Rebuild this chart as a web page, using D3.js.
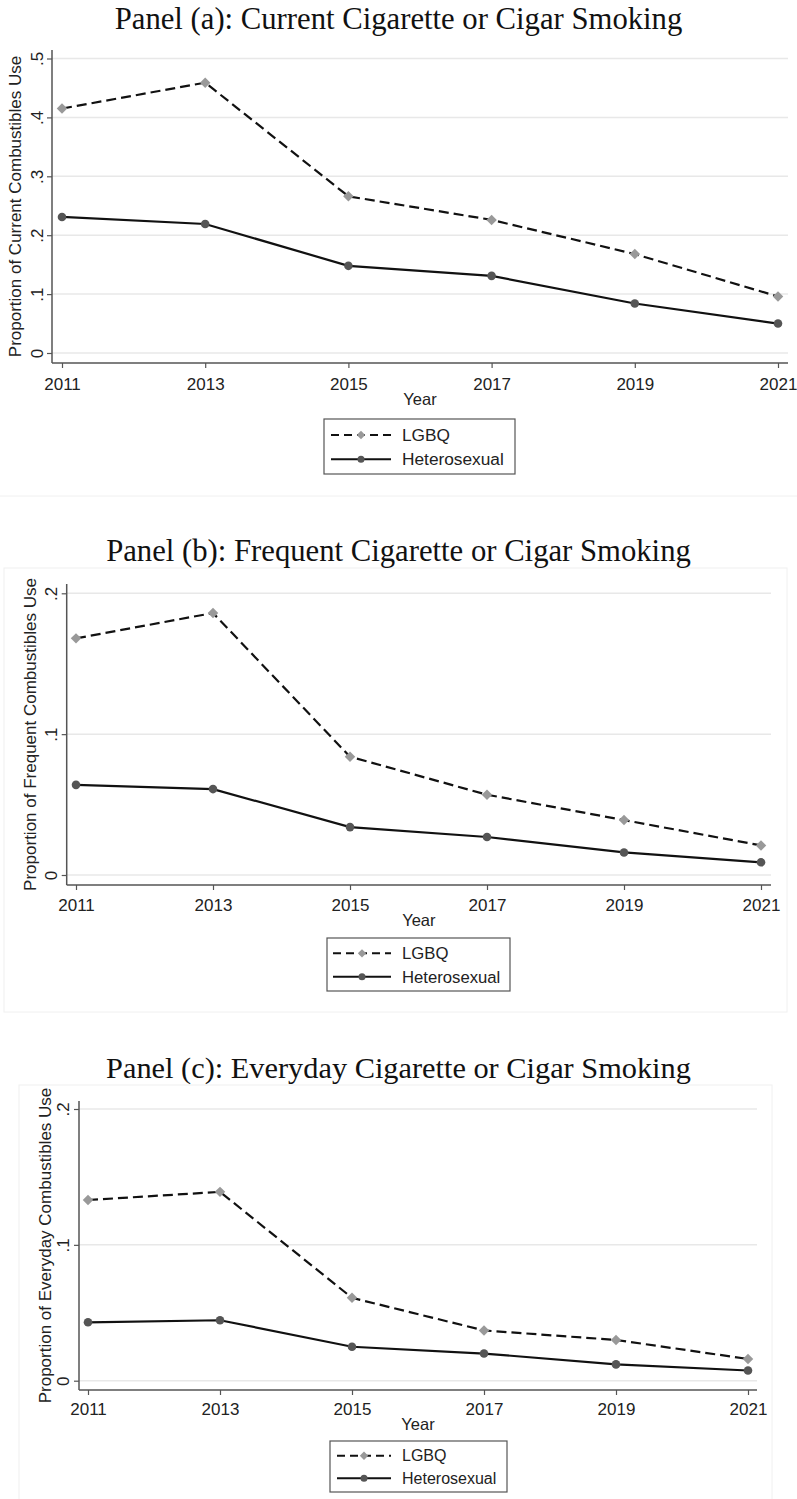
<!DOCTYPE html>
<html>
<head>
<meta charset="utf-8">
<script src="https://cdn.jsdelivr.net/npm/d3@7/dist/d3.min.js"></script>
<style>
  html, body { margin: 0; padding: 0; background: #fff; }
  svg { display: block; }
</style>
</head>
<body>
<svg id="chart" width="797" height="1499"></svg>
<script>
// Survey years on the x axis
const years = [2011, 2013, 2015, 2017, 2019, 2021];
const seriesNames = ["LGBQ", "Heterosexual"];

// Panel (a): current cigarette or cigar smoking
const currentLGBQ   = [0.415, 0.459, 0.266, 0.226, 0.168, 0.096];
const currentHetero = [0.231, 0.219, 0.148, 0.131, 0.084, 0.050];
const currentTicks  = [0, 0.1, 0.2, 0.3, 0.4, 0.5];

// Panel (b): frequent cigarette or cigar smoking
const frequentLGBQ   = [0.168, 0.186, 0.084, 0.057, 0.039, 0.021];
const frequentHetero = [0.064, 0.061, 0.034, 0.027, 0.016, 0.009];
const frequentTicks  = [0, 0.1, 0.2];

// Panel (c): everyday cigarette or cigar smoking
const everydayLGBQ   = [0.133, 0.139, 0.061, 0.037, 0.030, 0.016];
const everydayHetero = [0.043, 0.0445, 0.025, 0.020, 0.012, 0.0075];
const everydayTicks  = [0, 0.1, 0.2];

const titles = [
  "Panel (a): Current Cigarette or Cigar Smoking",
  "Panel (b): Frequent Cigarette or Cigar Smoking",
  "Panel (c): Everyday Cigarette or Cigar Smoking"
];
const yTitles = [
  "Proportion of Current Combustibles Use",
  "Proportion of Frequent Combustibles Use",
  "Proportion of Everyday Combustibles Use"
];

const svg = d3.select("#chart");
const SANS = "'Liberation Sans', Arial, sans-serif";
const SERIF = "'Liberation Serif', 'Times New Roman', serif";
const tickFmt = v => v === 0 ? "0" : d3.format(".1f")(v).replace(/^0/, "");

// Layout of each panel
const panels = [
  { title: titles[0], titleY: 29, titleW: 568, yTitle: yTitles[0],
    lgbq: currentLGBQ, hetero: currentHetero, ticks: currentTicks, yMax: 0.5,
    axisX: 52, plotRight: 788, x0: 62, x1: 778,
    yBottom: 353, yTop: 58.5, axisTop: 50, xAxisY: 363,
    yTitleX: 15, tickLabelX: 37, xLabelY: 384, yearY: 405,
    legend: { x: 324, y: 419, w: 191, h: 55, l0: 7, l1: 67, tx: 78, fs: 17.3 },
    frame: null, sepLine: 496 },
  { title: titles[1], titleY: 561, titleW: 585, yTitle: yTitles[1],
    lgbq: frequentLGBQ, hetero: frequentHetero, ticks: frequentTicks, yMax: 0.2,
    axisX: 66.7, plotRight: 771, x0: 76, x1: 761,
    yBottom: 875, yTop: 593.3, axisTop: 584, xAxisY: 885,
    yTitleX: 30, tickLabelX: 51, xLabelY: 905, yearY: 926,
    legend: { x: 327, y: 938, w: 183, h: 53, l0: 6, l1: 64, tx: 75, fs: 16.7 },
    frame: { x: 4, y: 568, w: 783, h: 444 }, sepLine: null },
  { title: titles[2], titleY: 1078, titleW: 585, yTitle: yTitles[2],
    lgbq: everydayLGBQ, hetero: everydayHetero, ticks: everydayTicks, yMax: 0.2,
    axisX: 79, plotRight: 757, x0: 88, x1: 748,
    yBottom: 1380.7, yTop: 1109, axisTop: 1101, xAxisY: 1390,
    yTitleX: 45, tickLabelX: 63, xLabelY: 1409, yearY: 1430,
    legend: { x: 330, y: 1441, w: 177, h: 51, l0: 7, l1: 61, tx: 72, fs: 16 },
    frame: { x: 19, y: 1085, w: 753, h: 430 }, sepLine: null }
];

panels.forEach(p => {
  const g = svg.append("g");

  // faint outer frame of the graph region
  if (p.frame) {
    g.append("rect")
      .attr("x", p.frame.x).attr("y", p.frame.y)
      .attr("width", p.frame.w).attr("height", p.frame.h)
      .attr("fill", "none").attr("stroke", "#f0f0f0").attr("stroke-width", 1);
  }
  if (p.sepLine) {
    g.append("line")
      .attr("x1", 0).attr("x2", 797).attr("y1", p.sepLine).attr("y2", p.sepLine)
      .attr("stroke", "#f0f0f0").attr("stroke-width", 1);
  }

  const x = d3.scaleLinear().domain([years[0], years[years.length - 1]]).range([p.x0, p.x1]);
  const y = d3.scaleLinear().domain([0, p.yMax]).range([p.yBottom, p.yTop]);

  // title, sized to its set width
  const t = g.append("text")
    .attr("x", 398.5).attr("y", p.titleY)
    .attr("text-anchor", "middle")
    .attr("font-family", SERIF)
    .attr("font-size", 28)
    .attr("fill", "#111")
    .text(p.title);
  const w0 = t.node().getComputedTextLength();
  if (w0 > 0) t.attr("font-size", 28 * p.titleW / w0);

  // horizontal grid lines
  g.append("g").selectAll("line").data(p.ticks).join("line")
    .attr("x1", p.axisX).attr("x2", p.plotRight)
    .attr("y1", d => y(d)).attr("y2", d => y(d))
    .attr("stroke", "#e8e8e8").attr("stroke-width", 1.5);

  // y axis
  const yAxis = g.append("g")
    .attr("transform", `translate(${p.axisX},0)`)
    .call(d3.axisLeft(y).tickValues(p.ticks).tickFormat(tickFmt).tickSize(5).tickSizeOuter(0));
  yAxis.select(".domain").remove();
  yAxis.selectAll(".tick line").attr("stroke", "#555").attr("stroke-width", 1.2);
  yAxis.selectAll(".tick text")
    .attr("font-family", SANS).attr("font-size", 17).attr("fill", "#222")
    .attr("text-anchor", "middle")
    .attr("x", 0).attr("y", 0).attr("dy", "0.35em")
    .attr("transform", `translate(${p.tickLabelX - p.axisX},0) rotate(-90)`);
  g.append("line")
    .attr("x1", p.axisX).attr("x2", p.axisX)
    .attr("y1", p.axisTop).attr("y2", p.xAxisY)
    .attr("stroke", "#555").attr("stroke-width", 1.5);

  // x axis
  const xAxis = g.append("g")
    .attr("transform", `translate(0,${p.xAxisY})`)
    .call(d3.axisBottom(x).tickValues(years).tickFormat(d3.format("d")).tickSize(5).tickSizeOuter(0));
  xAxis.select(".domain").remove();
  xAxis.selectAll(".tick line").attr("stroke", "#555").attr("stroke-width", 1.2);
  xAxis.selectAll(".tick text")
    .attr("font-family", SANS).attr("font-size", 17).attr("fill", "#222")
    .attr("y", p.xLabelY - p.xAxisY).attr("dy", "0.35em");
  g.append("line")
    .attr("x1", p.axisX).attr("x2", p.plotRight)
    .attr("y1", p.xAxisY).attr("y2", p.xAxisY)
    .attr("stroke", "#555").attr("stroke-width", 1.5);

  // axis titles
  g.append("text")
    .attr("x", (p.axisX + p.plotRight) / 2).attr("y", p.yearY)
    .attr("text-anchor", "middle").attr("font-family", SANS)
    .attr("font-size", 16.5).attr("fill", "#222").text("Year");
  g.append("text")
    .attr("transform", `translate(${p.yTitleX},${(p.axisTop + p.xAxisY) / 2}) rotate(-90)`)
    .attr("text-anchor", "middle").attr("dy", "0.35em").attr("font-family", SANS)
    .attr("font-size", 17).attr("fill", "#222").text(p.yTitle);

  // series lines
  const line = d3.line().x((d, i) => x(years[i])).y(d => y(d));
  g.append("path").datum(p.lgbq)
    .attr("d", line).attr("fill", "none")
    .attr("stroke", "#111").attr("stroke-width", 2.2).attr("stroke-dasharray", "10,5");
  g.append("path").datum(p.hetero)
    .attr("d", line).attr("fill", "none")
    .attr("stroke", "#111").attr("stroke-width", 2.2);

  // markers
  const diamond = d3.symbol().type(d3.symbolDiamond2).size(70);
  g.append("g").selectAll("path").data(p.lgbq).join("path")
    .attr("d", diamond)
    .attr("transform", (d, i) => `translate(${x(years[i])},${y(d)})`)
    .attr("fill", "#999");
  g.append("g").selectAll("circle").data(p.hetero).join("circle")
    .attr("cx", (d, i) => x(years[i])).attr("cy", d => y(d)).attr("r", 4.3)
    .attr("fill", "#555");

  // legend
  const L = p.legend;
  const lg = g.append("g").attr("transform", `translate(${L.x},${L.y})`);
  lg.append("rect").attr("width", L.w).attr("height", L.h)
    .attr("fill", "#fff").attr("stroke", "#555").attr("stroke-width", 1.2);
  const rowY = [L.h * 0.29, L.h * 0.73];
  const mid = (L.l0 + L.l1) / 2;
  seriesNames.forEach((name, k) => {
    const ry = rowY[k];
    lg.append("line")
      .attr("x1", L.l0).attr("x2", L.l1).attr("y1", ry).attr("y2", ry)
      .attr("stroke", "#111").attr("stroke-width", 2)
      .attr("stroke-dasharray", k === 0 ? "8,5" : null);
    if (k === 0) {
      lg.append("path").attr("d", d3.symbol().type(d3.symbolDiamond2).size(45))
        .attr("transform", `translate(${mid},${ry})`).attr("fill", "#999");
    } else {
      lg.append("circle").attr("cx", mid).attr("cy", ry).attr("r", 3.5).attr("fill", "#555");
    }
    lg.append("text")
      .attr("x", L.tx).attr("y", ry).attr("dy", "0.35em")
      .attr("font-family", SANS).attr("font-size", L.fs).attr("fill", "#222")
      .text(name);
  });
});
</script>
</body>
</html>
